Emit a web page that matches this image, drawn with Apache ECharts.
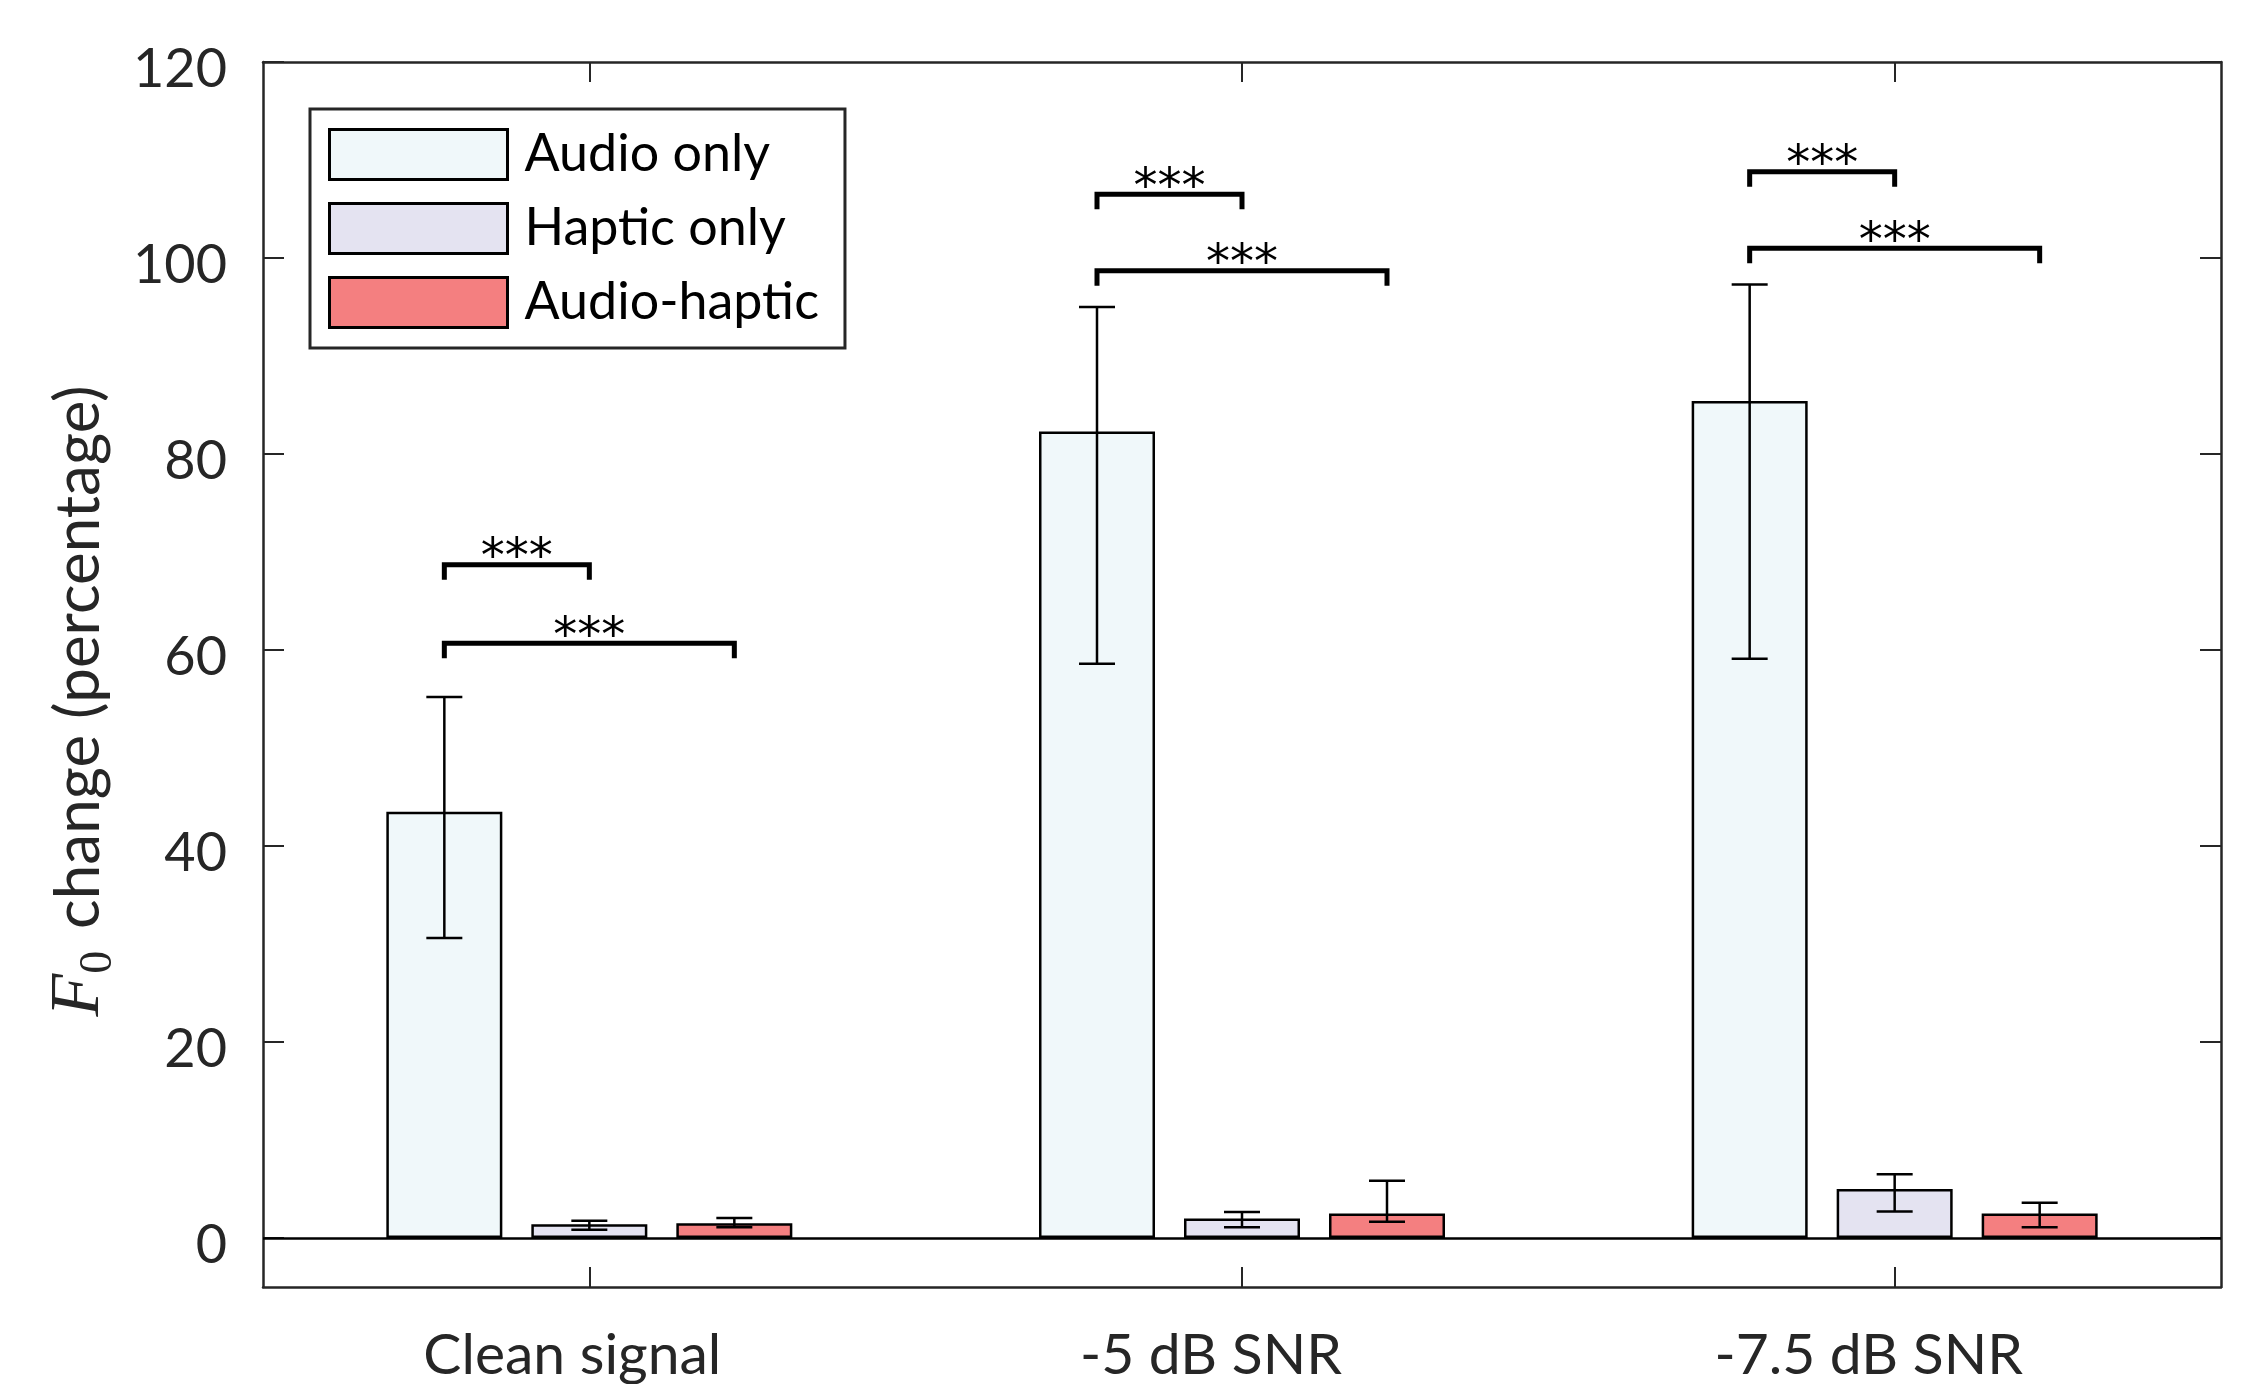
<!DOCTYPE html>
<html>
<head>
<meta charset="utf-8">
<script src="https://cdn.jsdelivr.net/npm/echarts@6/dist/echarts.min.js"></script>
<style>
html,body{margin:0;padding:0;background:#fff;}
#c{width:2245px;height:1384px;}
</style>
</head>
<body>
<div id="c"></div>
<script>
// ---------- data ----------
const categories = ['Clean signal', '-5 dB SNR', '-7.5 dB SNR'];
const seriesNames = ['Audio only', 'Haptic only', 'Audio-haptic'];
const audioOnly = [43.5, 82.3, 85.4];
const audioOnlyLow = [30.6, 58.6, 59.1];
const audioOnlyHigh = [55.2, 95.0, 97.3];
const hapticOnly = [1.4, 2.0, 5.0];
const hapticOnlyLow = [0.85, 1.1, 2.7];
const hapticOnlyHigh = [1.75, 2.65, 6.5];
const audioHaptic = [1.5, 2.5, 2.5];
const audioHapticLow = [1.1, 1.65, 1.1];
const audioHapticHigh = [2.05, 5.85, 3.6];
const yTicks = [0, 20, 40, 60, 80, 100, 120];
// significance brackets
const sigCategory = [0, 0, 1, 1, 2, 2];
const sigFrom = [0, 0, 0, 0, 0, 0];
const sigTo = [1, 2, 1, 2, 1, 2];
const sigLevel = [68.7, 60.7, 106.5, 98.7, 108.8, 101.0];
const sigLabel = ['***', '***', '***', '***', '***', '***'];

// ---------- styles ----------
const FONT = 'Lato';
const TXT = '#262626';
const colors = ['#F0F8FA', '#E4E3F1', '#F47F80'];
const xLabelShift = [17, 31, 26];
const BAR_W = 116, BAR_GAP = 0.25, CAP_HALF = 18, LEG = 15;
const STEP = BAR_W * (1 + BAR_GAP);

const means = [audioOnly, hapticOnly, audioHaptic];
const lows = [audioOnlyLow, hapticOnlyLow, audioHapticLow];
const highs = [audioOnlyHigh, hapticOnlyHigh, audioHapticHigh];

const errData = [];
for (let s = 0; s < 3; s++) for (let c = 0; c < categories.length; c++) errData.push([c, s, lows[s][c], highs[s][c]]);
const sigData = sigCategory.map((c, i) => [c, sigFrom[i], sigTo[i], sigLevel[i]]);

const chart = echarts.init(document.getElementById('c'), null, {renderer: 'canvas'});

const barSeries = seriesNames.map((n, i) => {
  const s = {
    type: 'bar', name: n, data: means[i], barWidth: BAR_W, barGap: '25%',
    itemStyle: {color: colors[i], borderColor: '#000', borderWidth: 2.5},
    emphasis: {disabled: true}, z: 2
  };
  if (i === 0) {
    s.markLine = {
      silent: true, symbol: ['none', 'none'], label: {show: false},
      lineStyle: {color: '#000', width: 2.5, type: 'solid'},
      emphasis: {disabled: true},
      data: [{yAxis: 0}]
    };
  }
  return s;
});

const errSeries = {
  type: 'custom', name: 'err', silent: true, z: 5,
  encode: {x: 0, y: [2, 3]},
  data: errData,
  renderItem: function (params, api) {
    const c = api.value(0), s = api.value(1);
    const pLo = api.coord([c, api.value(2)]);
    const pHi = api.coord([c, api.value(3)]);
    const x = pLo[0] + (s - 1) * STEP;
    const st = {stroke: '#000', lineWidth: 2.5};
    return {type: 'group', children: [
      {type: 'line', shape: {x1: x, y1: pHi[1], x2: x, y2: pLo[1]}, style: st},
      {type: 'line', shape: {x1: x - CAP_HALF, y1: pHi[1], x2: x + CAP_HALF, y2: pHi[1]}, style: st},
      {type: 'line', shape: {x1: x - CAP_HALF, y1: pLo[1], x2: x + CAP_HALF, y2: pLo[1]}, style: st}
    ]};
  }
};

const sigSeries = {
  type: 'custom', name: 'sig', silent: true, z: 6,
  encode: {x: 0, y: 3},
  data: sigData,
  renderItem: function (params, api) {
    const c = api.value(0);
    const p = api.coord([c, api.value(3)]);
    const x1 = p[0] + (api.value(1) - 1) * STEP;
    const x2 = p[0] + (api.value(2) - 1) * STEP;
    const y = p[1];
    return {type: 'group', children: [
      {type: 'polyline', shape: {points: [[x1, y + LEG], [x1, y], [x2, y], [x2, y + LEG]]},
        style: {stroke: '#000', lineWidth: 5, fill: null, lineJoin: 'miter', lineCap: 'butt'}},
      {type: 'text', x: (x1 + x2) / 2, y: y + 19,
        style: {text: sigLabel[params.dataIndex], fill: '#000', fontFamily: 'DejaVu Sans', fontSize: 48,
          align: 'center', verticalAlign: 'bottom'}}
    ]};
  }
};

const axisLineStyle = {onZero: false, lineStyle: {color: TXT, width: 2.5}};

const option = {
  animation: false,
  backgroundColor: '#fff',
  grid: {left: 263, right: 24, top: 62, bottom: 96, containLabel: false},
  legend: {
    data: seriesNames, orient: 'vertical', left: 310, top: 109,
    padding: [19, 26, 19, 18], itemWidth: 178, itemHeight: 50, itemGap: 21,
    borderColor: TXT, borderWidth: 3, backgroundColor: '#fff', selectedMode: false,
    icon: 'rect',
    itemStyle: {borderColor: '#000', borderWidth: 3},
    textStyle: {fontFamily: FONT, fontSize: 52, color: '#000', padding: [14, 0, 0, 12], lineHeight: 34}
  },
  xAxis: [
    {
      type: 'category', position: 'bottom',
      data: categories.map((c, i) => ({value: c, textStyle: {padding: [0, 2 * xLabelShift[i], 0, 0]}})),
      axisLine: axisLineStyle,
      axisTick: {show: true, inside: true, length: 20, alignWithLabel: true, interval: 0, lineStyle: {color: TXT, width: 2}},
      axisLabel: {fontFamily: FONT, fontSize: 57, color: TXT, margin: 40, interval: 0},
      splitLine: {show: false}
    },
    {
      type: 'category', position: 'top', data: categories,
      axisLine: axisLineStyle,
      axisTick: {show: true, inside: true, length: 20, alignWithLabel: true, interval: 0, lineStyle: {color: TXT, width: 2}},
      axisLabel: {show: false},
      splitLine: {show: false}
    }
  ],
  yAxis: [
    {
      type: 'value', position: 'left', min: -5, max: 120,
      axisLine: {show: true, onZero: false, lineStyle: {color: TXT, width: 2.5}},
      axisTick: {show: true, inside: true, length: 21, customValues: yTicks, lineStyle: {color: TXT, width: 2}},
      axisLabel: {fontFamily: FONT, fontSize: 54, color: TXT, margin: 36, customValues: yTicks, lineHeight: 16, verticalAlign: 'top'},
      splitLine: {show: false},
      name: '{f|F}{s|0} change (percentage)',
      nameLocation: 'middle', nameGap: 132, nameRotate: 90,
      nameTextStyle: {
        fontFamily: FONT, fontSize: 62, color: TXT, padding: [0, 53, 0, 0],
        rich: {
          f: {fontFamily: 'Liberation Serif', fontStyle: 'italic', fontSize: 70, color: TXT},
          s: {fontFamily: 'Liberation Serif', fontSize: 46, color: TXT, verticalAlign: 'bottom', lineHeight: 86, padding: [0, 6, 0, 0]}
        }
      }
    },
    {
      type: 'value', position: 'right', min: -5, max: 120,
      axisLine: {show: true, onZero: false, lineStyle: {color: TXT, width: 2.5}},
      axisTick: {show: true, inside: true, length: 21, customValues: yTicks, lineStyle: {color: TXT, width: 2}},
      axisLabel: {show: false},
      splitLine: {show: false}
    }
  ],
  series: barSeries.concat([errSeries, sigSeries])
};

chart.setOption(option);
</script>
</body>
</html>
